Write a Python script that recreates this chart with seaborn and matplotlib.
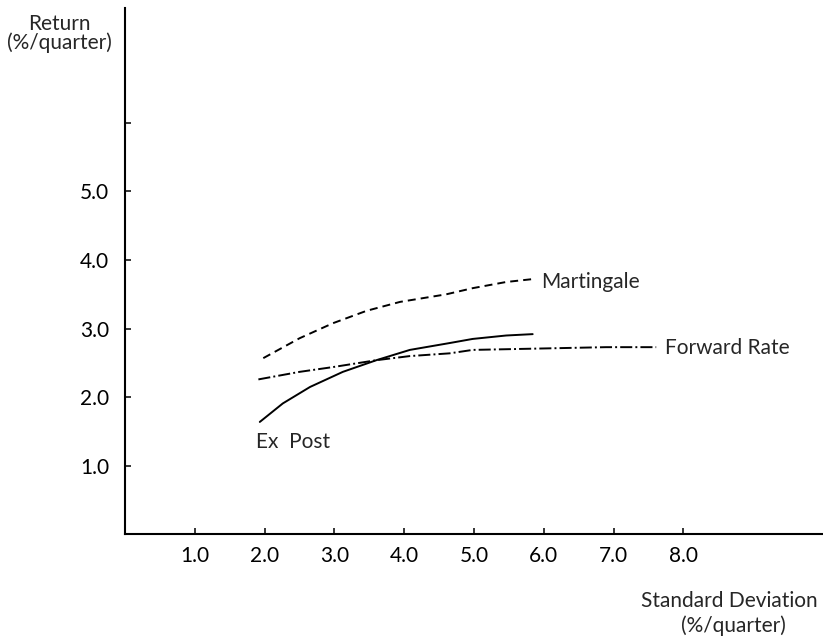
import matplotlib
matplotlib.use("Agg")
import matplotlib.pyplot as plt
import pandas as pd
import seaborn as sns

# values
ex_post_sd = [1.93, 2.26, 2.65, 3.12, 3.60, 4.08, 4.65, 4.98, 5.46, 5.84]
ex_post_ret = [1.64, 1.91, 2.15, 2.37, 2.54, 2.69, 2.79, 2.85, 2.90, 2.92]

martingale_sd = [1.98, 2.50, 2.98, 3.46, 3.94, 4.60, 4.98, 5.46, 5.82]
martingale_ret = [2.57, 2.86, 3.08, 3.26, 3.39, 3.50, 3.59, 3.68, 3.72]

forward_sd = [1.91, 2.50, 2.98, 3.60, 4.08, 4.65, 4.98, 5.94, 6.89, 7.61]
forward_ret = [2.26, 2.37, 2.44, 2.54, 2.60, 2.64, 2.69, 2.71, 2.73, 2.73]

x_ticks = [1, 2, 3, 4, 5, 6, 7, 8]
x_tick_labels = ["1.0", "2.0", "3.0", "4.0", "5.0", "6.0", "7.0", "8.0"]
y_ticks = [1, 2, 3, 4, 5, 6]
y_tick_labels = ["1.0", "2.0", "3.0", "4.0", "5.0", ""]

sns.set_style("ticks")
plt.rcParams["font.family"] = ["Lato", "DejaVu Sans"]

fig = plt.figure(figsize=(8.23, 6.37), dpi=100)
ax = fig.add_axes([0.152, 0.161, 0.848, 0.826])

curves = [
    (ex_post_sd, ex_post_ret, "-"),
    (martingale_sd, martingale_ret, (0, (4.1, 2.6))),
    (forward_sd, forward_ret, (0, (6.2, 1.6, 1.0, 1.6))),
]
for xs, ys, ls in curves:
    df = pd.DataFrame({"sd": xs, "ret": ys})
    sns.lineplot(data=df, x="sd", y="ret", ax=ax, color="black",
                 linewidth=1.4, linestyle=ls, sort=True)

ax.text(5.96, 3.59, "Martingale", fontsize=15, va="baseline", ha="left")
ax.text(7.73, 2.63, "Forward Rate", fontsize=15, va="baseline", ha="left")
ax.text(1.88, 1.26, "Ex  Post", fontsize=15, va="baseline", ha="left")

ax.set_xlim(0, 10)
ax.set_ylim(0, 7.67)
ax.set_xticks(x_ticks)
ax.set_xticklabels(x_tick_labels)
ax.set_yticks(y_ticks)
ax.set_yticklabels(y_tick_labels)
ax.tick_params(direction="in", length=4, width=1.1, labelsize=15,
               colors="black")
ax.tick_params(axis="x", pad=8)
ax.tick_params(axis="y", pad=11.5)
ax.set_xlabel("")
ax.set_ylabel("")
for side in ["top", "right"]:
    ax.spines[side].set_visible(False)
for side in ["left", "bottom"]:
    ax.spines[side].set_linewidth(1.5)
    ax.spines[side].set_color("black")

H = 637.0
fig.text(59 / 823, 1 - 30 / H, "Return", fontsize=15, ha="center",
         va="baseline")
fig.text(59 / 823, 1 - 49 / H, "(%/quarter)", fontsize=15, ha="center",
         va="baseline")
fig.text(818 / 823, 1 - 607 / H, "Standard Deviation", fontsize=15,
         ha="right", va="baseline")
fig.text(733 / 823, 1 - 632 / H, "(%/quarter)", fontsize=15, ha="center",
         va="baseline")

fig.savefig("out.png", dpi=100)
